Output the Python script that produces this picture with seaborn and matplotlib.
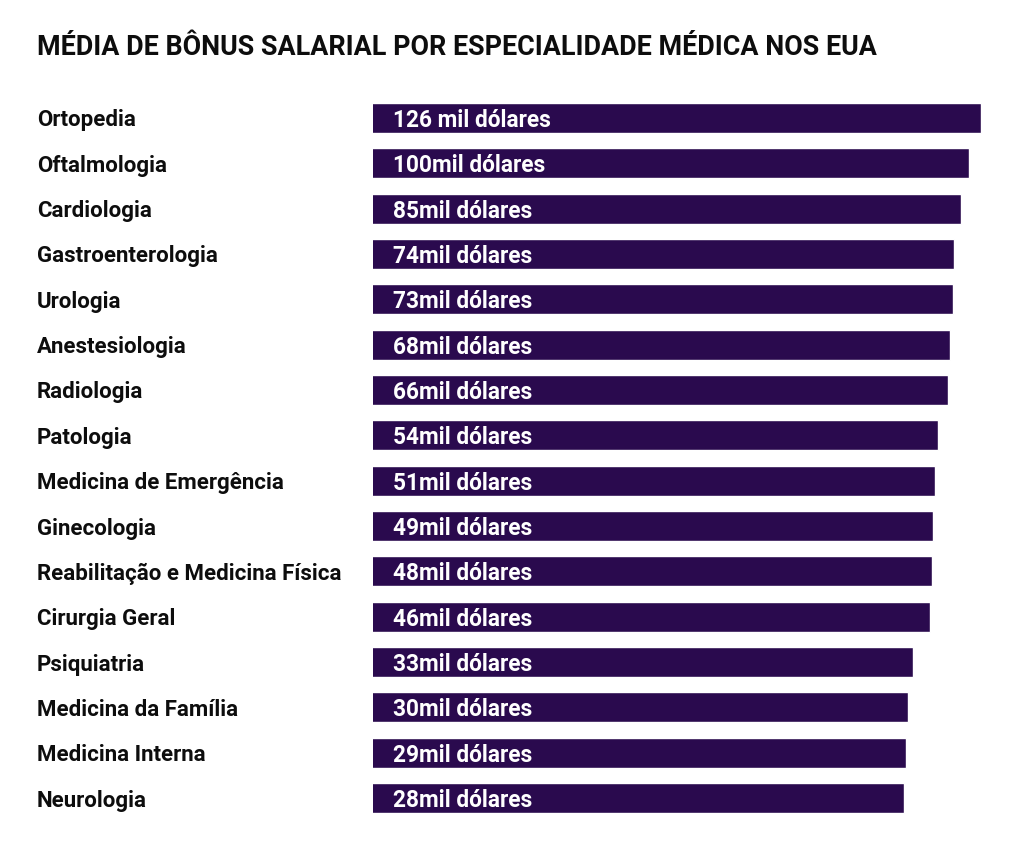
import pandas as pd
import seaborn as sns
import matplotlib.pyplot as plt
import matplotlib.transforms as mtransforms

# Data (bonus in thousands of dollars)
especialidades = ['Ortopedia', 'Oftalmologia', 'Cardiologia', 'Gastroenterologia',
                  'Urologia', 'Anestesiologia', 'Radiologia', 'Patologia',
                  'Medicina de Emergência', 'Ginecologia',
                  'Reabilitação e Medicina Física', 'Cirurgia Geral',
                  'Psiquiatria', 'Medicina da Família', 'Medicina Interna',
                  'Neurologia']
bonus = [126, 100, 85, 74, 73, 68, 66, 54, 51, 49, 48, 46, 33, 30, 29, 28]
rotulos = ['126 mil dólares', '100mil dólares', '85mil dólares', '74mil dólares',
           '73mil dólares', '68mil dólares', '66mil dólares', '54mil dólares',
           '51mil dólares', '49mil dólares', '48mil dólares', '46mil dólares',
           '33mil dólares', '30mil dólares', '29mil dólares', '28mil dólares']

df = pd.DataFrame({'especialidade': especialidades, 'bonus': bonus})

sns.set_theme(style='white')
plt.rcParams['font.family'] = ['Roboto', 'DejaVu Sans']

W, H = 1024, 842
fig = plt.figure(figsize=(W / 100, H / 100), dpi=100)
# axes spans bar area: x 373..1000 px, rows centred 118..798 px
ax = fig.add_axes([373 / W, 1 - 820.7 / H, (1000 - 373) / W, (820.7 - 95.3) / H])

cor = '#2a0a4e'
sns.barplot(data=df, x='bonus', y='especialidade', orient='h', color=cor,
            saturation=1, width=0.66, ax=ax, errorbar=None)

# bar lengths in the original grow roughly with the log of the value
ax.set_xscale('log')
ax.set_xlim(0.000829, 183)
ax.set_ylim(len(especialidades) - 0.5, -0.5)

ax.set_xlabel('')
ax.set_ylabel('')
ax.set_xticks([])
ax.minorticks_off()
ax.tick_params(axis='x', which='both', bottom=False, labelbottom=False)
ax.tick_params(axis='y', length=0, pad=(373 - 37) * 0.72)
for t in ax.get_yticklabels():
    t.set_ha('left')
    t.set_va('center_baseline')
    t.set_fontsize(16)
    t.set_fontweight('bold')
    t.set_color('#0d0d0d')
sns.despine(ax=ax, left=True, bottom=True)

trans = mtransforms.blended_transform_factory(ax.transAxes, ax.transData)
for i, txt in enumerate(rotulos):
    ax.text(20 / 627, i, txt, transform=trans, ha='left', va='center_baseline',
            color='white', fontsize=16.3, fontweight='bold')

fig.text(37 / W, 1 - 55 / H, 'MÉDIA DE BÔNUS SALARIAL POR ESPECIALIDADE MÉDICA NOS EUA',
         ha='left', va='baseline', fontsize=19.4, fontweight='bold', color='#0d0d0d')

fig.savefig('out.png', dpi=100)
